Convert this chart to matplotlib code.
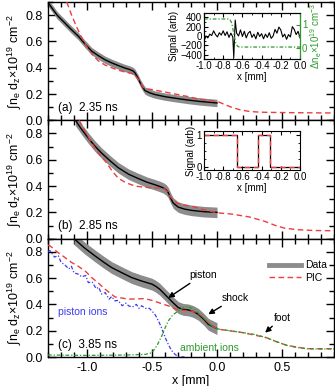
import numpy as np
import matplotlib
matplotlib.use("Agg")
import matplotlib.pyplot as plt
from matplotlib.ticker import MultipleLocator
from matplotlib.lines import Line2D

plt.rcParams['font.family'] = ['Liberation Sans', 'DejaVu Sans']
plt.rcParams['mathtext.fontset'] = 'custom'
plt.rcParams['mathtext.rm'] = 'Liberation Sans'
plt.rcParams['mathtext.it'] = 'Liberation Sans:italic'
plt.rcParams['mathtext.default'] = 'regular'

# ---------------- data ----------------
# panel (a) 2.35 ns
a_data_x = [-1.30, -1.285, -1.23, -1.17, -1.12, -1.067, -1.015, -0.964, -0.91, -0.86, -0.81, -0.76, -0.715, -0.67, -0.645, -0.63, -0.61, -0.59, -0.57, -0.554, -0.52, -0.477, -0.40, -0.30, -0.22, -0.144, -0.07, 0.0]
a_data_y = [0.90, 0.875, 0.80, 0.74, 0.69, 0.64, 0.58, 0.526, 0.49, 0.46, 0.437, 0.417, 0.40, 0.386, 0.375, 0.36, 0.325, 0.284, 0.25, 0.226, 0.21, 0.196, 0.18, 0.165, 0.154, 0.145, 0.138, 0.132]
a_pic_x = [-1.156, -1.12, -1.08, -1.04, -0.99, -0.95, -0.91, -0.86, -0.81, -0.76, -0.71, -0.64, -0.605, -0.567, -0.53, -0.50, -0.40, -0.30, -0.22, -0.144, -0.07, 0.0, 0.06, 0.113, 0.17, 0.24, 0.30, 0.37, 0.6, 0.9]
a_pic_y = [0.90, 0.805, 0.71, 0.627, 0.54, 0.49, 0.45, 0.42, 0.40, 0.382, 0.368, 0.353, 0.31, 0.25, 0.238, 0.234, 0.215, 0.196, 0.18, 0.162, 0.152, 0.145, 0.12, 0.099, 0.082, 0.069, 0.064, 0.061, 0.058, 0.056]
a_err = 0.028

# panel (b) 2.85 ns
b_data_x = [-1.09, -1.04, -0.99, -0.94, -0.887, -0.82, -0.76, -0.68, -0.605, -0.54, -0.477, -0.44, -0.413, -0.39, -0.375, -0.355, -0.336, -0.298, -0.25, -0.195, -0.10, 0.0]
b_data_y = [0.90, 0.83, 0.765, 0.705, 0.65, 0.59, 0.54, 0.49, 0.457, 0.43, 0.41, 0.397, 0.386, 0.37, 0.35, 0.305, 0.27, 0.24, 0.225, 0.215, 0.205, 0.20]
b_pic_x = [-1.06, -1.0, -0.94, -0.90, -0.86, -0.81, -0.76, -0.70, -0.63, -0.55, -0.477, -0.413, -0.385, -0.36, -0.31, -0.25, -0.195, -0.10, 0.0, 0.113, 0.25, 0.37, 0.45, 0.52, 0.62, 0.75, 0.9]
b_pic_y = [0.90, 0.79, 0.69, 0.635, 0.59, 0.52, 0.46, 0.425, 0.40, 0.39, 0.386, 0.386, 0.36, 0.32, 0.27, 0.255, 0.247, 0.22, 0.197, 0.187, 0.165, 0.131, 0.10, 0.08, 0.068, 0.062, 0.06]
b_err = 0.04

# panel (c) 3.85 ns
c_data_x = [-1.10, -1.02, -0.94, -0.87, -0.81, -0.73, -0.656, -0.58, -0.50, -0.47, -0.44, -0.41, -0.375, -0.335, -0.298, -0.26, -0.22, -0.18, -0.144, -0.10, -0.067, -0.03, 0.0]
c_data_y = [0.90, 0.83, 0.77, 0.72, 0.68, 0.64, 0.604, 0.578, 0.554, 0.537, 0.515, 0.485, 0.45, 0.41, 0.376, 0.362, 0.358, 0.345, 0.325, 0.285, 0.249, 0.23, 0.216]
c_pic_x = [-1.30, -1.285, -1.23, -1.17, -1.12, -1.067, -1.01, -0.964, -0.91, -0.86, -0.785, -0.68, -0.554, -0.50, -0.45, -0.375, -0.30, -0.195, -0.15, -0.118, -0.08, -0.04, 0.0, 0.023, 0.2, 0.38, 0.46, 0.536, 0.69, 0.9]
c_pic_y = [0.85, 0.846, 0.80, 0.757, 0.72, 0.69, 0.65, 0.604, 0.56, 0.515, 0.457, 0.44, 0.444, 0.43, 0.414, 0.389, 0.358, 0.35, 0.335, 0.312, 0.275, 0.236, 0.216, 0.21, 0.185, 0.147, 0.115, 0.089, 0.063, 0.063]
c_err = 0.045
piston_x = [-1.30, -1.285, -1.25, -1.22, -1.20, -1.17, -1.14, -1.12, -1.10, -1.067, -1.04, -1.01, -0.99, -0.96, -0.93, -0.91, -0.887, -0.86, -0.83, -0.81, -0.785, -0.76, -0.73, -0.70, -0.68, -0.65, -0.62, -0.60, -0.58, -0.55, -0.52, -0.50, -0.475, -0.45, -0.43, -0.413, -0.395, -0.375, -0.35, -0.323, -0.30, -0.25]
piston_y = [0.80, 0.81, 0.76, 0.77, 0.72, 0.70, 0.67, 0.69, 0.64, 0.63, 0.61, 0.62, 0.566, 0.57, 0.52, 0.53, 0.478, 0.49, 0.44, 0.46, 0.427, 0.43, 0.39, 0.41, 0.389, 0.38, 0.40, 0.37, 0.39, 0.37, 0.37, 0.35, 0.32, 0.274, 0.23, 0.185, 0.14, 0.097, 0.05, 0.02, 0.005, 0.0]
ambient_x = [-1.30, -1.0, -0.7, -0.55, -0.50, -0.46, -0.425, -0.40, -0.375, -0.34, -0.298, -0.26, -0.22, -0.17, -0.118, -0.04, 0.0, 0.023, 0.1, 0.2, 0.3, 0.38, 0.45, 0.536, 0.6, 0.69, 0.8, 0.9]
ambient_y = [0.015, 0.012, 0.015, 0.02, 0.033, 0.09, 0.16, 0.22, 0.274, 0.32, 0.35, 0.375, 0.383, 0.36, 0.31, 0.236, 0.216, 0.21, 0.20, 0.185, 0.17, 0.147, 0.12, 0.089, 0.075, 0.063, 0.06, 0.062]

# inset (a): shadowgraphy signal and density jump
sig_x = [-1.00, -0.98, -0.96, -0.94, -0.92, -0.90, -0.88, -0.86, -0.84, -0.82, -0.80, -0.78, -0.76, -0.74, -0.72, -0.70, -0.69, -0.675, -0.66, -0.64, -0.62, -0.60, -0.58, -0.56, -0.54, -0.52, -0.50, -0.48, -0.46, -0.44, -0.42, -0.40, -0.38, -0.36, -0.34, -0.32, -0.30, -0.28, -0.26, -0.24, -0.22, -0.20, -0.18, -0.16, -0.14, -0.12, -0.10, -0.08, -0.06, -0.04, -0.02, 0.00]
sig_y = [-110, 0, -40, 40, 10, 110, 30, -20, 70, 20, 110, 10, 90, -30, 60, -20, -460, 340, 60, 0, 130, -10, 100, -40, 60, 100, -30, 40, -60, 80, -10, 50, -60, 40, -30, 70, -50, 0, 140, 60, 190, 130, -20, 40, -70, 30, -20, 200, 140, 30, 100, -40]
dn_x = [-1.00, -0.75, -0.73, -0.71, -0.69, -0.67, -0.65, -0.63, 0.00]
dn_y = [1.24, 1.24, 1.22, 1.05, 0.60, 0.20, 0.05, 0.02, 0.02]

# inset (b): binary signal
bin_x = [-1.00, -0.655, -0.655, -0.435, -0.435, -0.31, -0.31, 0.00]
bin_y = [1, 1, 0, 0, 1, 1, 0, 0]

panel_labels = ['(a)  2.35 ns', '(b)  2.85 ns', '(c)  3.85 ns']

RED = '#f03c3c'
BLUE = '#3a3af0'
GREEN = '#2e9a2e'
GRAY = '#8c8c8c'

fig = plt.figure(figsize=(3.35, 3.86), dpi=100)
left, right = 48 / 335, 334 / 335
bottom, top = 29 / 386, 1 - 2 / 386
h = (top - bottom) / 3
axes = []
for i in range(3):
    ax = fig.add_axes([left, top - (i + 1) * h, right - left, h])
    axes.append(ax)

ylab = '∫n$_e$ d$_z$×10$^{19}$ cm$^{-2}$'
panels = [
    (a_data_x, a_data_y, a_pic_x, a_pic_y, a_err),
    (b_data_x, b_data_y, b_pic_x, b_pic_y, b_err),
    (c_data_x, c_data_y, c_pic_x, c_pic_y, c_err),
]
for i, (ax, (dx, dy, px, py, err)) in enumerate(zip(axes, panels)):
    dx = np.array(dx); dy = np.array(dy)
    ax.fill_between(dx, dy - err, dy + err, color=GRAY, lw=0, zorder=2)
    ax.plot(dx, dy, color='k', lw=1.0, zorder=4)
    ax.plot(px, py, color=RED, lw=1.0, ls=(0, (4, 2.5)), zorder=5)
    ax.set_xlim(-1.3, 0.9)
    ax.set_ylim(0, 0.9)
    ax.xaxis.set_major_locator(MultipleLocator(0.5))
    ax.xaxis.set_minor_locator(MultipleLocator(0.1))
    ax.yaxis.set_major_locator(MultipleLocator(0.2))
    ax.yaxis.set_minor_locator(MultipleLocator(0.1))
    ax.tick_params(which='both', direction='in', top=True, right=True, labelsize=9, width=1)
    ax.tick_params(which='major', length=6)
    ax.tick_params(which='minor', length=3.5)
    ax.set_yticks([0, 0.2, 0.4, 0.6, 0.8])
    ax.set_yticklabels(['0.0', '0.2', '0.4', '0.6', '0.8'])
    for s in ax.spines.values():
        s.set_linewidth(1.0)
    ax.set_ylabel(ylab, fontsize=9, labelpad=2)
    ax.text(-1.22, 0.095, panel_labels[i], fontsize=8.5, va='center', ha='left')
    if i < 2:
        ax.tick_params(labelbottom=False)

axc = axes[2]
axc.set_xticks([-1.0, -0.5, 0.0, 0.5])
axc.set_xticklabels(['-1.0', '-0.5', '0.0', '0.5'])
axc.set_xlabel('x [mm]', fontsize=9, labelpad=1)
axc.plot(piston_x, piston_y, color=BLUE, lw=0.9, ls=(0, (3, 1.5, 1, 1.5)), zorder=3)
axc.plot(ambient_x, ambient_y, color=GREEN, lw=0.9, ls=(0, (3, 1.5, 1, 1.5)), zorder=6)
axc.text(-1.22, 0.34, 'piston ions', color=BLUE, fontsize=7.5, va='center', ha='left')
axc.text(-0.285, 0.07, 'ambient ions', color=GREEN, fontsize=7.5, va='center', ha='left')
ap = dict(arrowstyle='-|>', color='k', lw=1.0, mutation_scale=8, shrinkA=1, shrinkB=0)
axc.annotate('piston', xy=(-0.375, 0.45), xytext=(-0.11, 0.625), fontsize=7.5,
             ha='center', va='center', arrowprops=ap)
axc.annotate('shock', xy=(-0.067, 0.325), xytext=(0.14, 0.45), fontsize=7.5,
             ha='center', va='center', arrowprops=ap)
axc.annotate('foot', xy=(0.37, 0.185), xytext=(0.50, 0.30), fontsize=7.5,
             ha='center', va='center', arrowprops=ap)
handles = [Line2D([], [], color=GRAY, lw=3.5), Line2D([], [], color=RED, lw=1.0, ls=(0, (4, 2.5)))]
axc.legend(handles, ['Data', 'PIC'], loc='upper right', bbox_to_anchor=(1.0, 0.88), frameon=False,
           fontsize=7.5, handlelength=3.0, handletextpad=0.4, labelspacing=0.25, borderaxespad=0.3)

# ---------- inset (a) ----------
ia = fig.add_axes([204 / 335, 1 - 59 / 386, 96 / 335, 46 / 386])
ia.plot(sig_x, sig_y, color='k', lw=0.8)
ia.set_xlim(-1.0, 0.0)
ia.set_ylim(-490, 490)
ia.set_yticks([-400, -200, 0, 200, 400])
ia.yaxis.set_minor_locator(MultipleLocator(100))
ia.set_xticks([-1.0, -0.8, -0.6, -0.4, -0.2, 0.0])
ia.set_xticklabels(['-1.0', '-0.8', '-0.6', '-0.4', '-0.2', '0.0'])
ia.xaxis.set_minor_locator(MultipleLocator(0.1))
ia.tick_params(which='both', direction='in', top=True, labelsize=7, pad=1.5)
ia.tick_params(which='major', length=3)
ia.tick_params(which='minor', length=1.5)
ia.set_xlabel('x [mm]', fontsize=7, labelpad=0.5)
ia.set_ylabel('Signal (arb)', fontsize=7, labelpad=0.5)
ia2 = ia.twinx()
ia2.plot(dn_x, dn_y, color=GREEN, lw=0.9, ls=(0, (3, 1.5, 1, 1.5)))
ia2.set_ylim(-0.5, 1.5)
ia2.set_yticks([0, 1])
ia2.yaxis.set_minor_locator(MultipleLocator(0.5))
ia2.tick_params(which='both', direction='in', colors=GREEN, labelsize=7, pad=1.5)
ia2.tick_params(which='major', length=3)
ia2.tick_params(which='minor', length=1.5)
ia2.spines['right'].set_color(GREEN)
ia2.set_ylabel('Δn$_e$×10$^{19}$ cm$^{-3}$', fontsize=7, color=GREEN, labelpad=1)

# ---------- inset (b) ----------
ib = fig.add_axes([204 / 335, 1 - 170 / 386, 96 / 335, 39 / 386])
ib.plot(bin_x, bin_y, color='k', lw=0.9)
ib.plot(bin_x, bin_y, color=RED, lw=1.0, ls=(0, (4, 2.5)))
ib.set_xlim(-1.0, 0.0)
ib.set_ylim(-0.08, 1.12)
ib.set_yticks([0, 1])
ib.yaxis.set_minor_locator(MultipleLocator(0.25))
ib.set_xticks([-1.0, -0.8, -0.6, -0.4, -0.2, 0.0])
ib.set_xticklabels(['-1.0', '-0.8', '-0.6', '-0.4', '-0.2', '0.0'])
ib.xaxis.set_minor_locator(MultipleLocator(0.1))
ib.tick_params(which='both', direction='in', top=True, right=True, labelsize=7, pad=1.5)
ib.tick_params(which='major', length=3)
ib.tick_params(which='minor', length=1.5)
ib.set_xlabel('x [mm]', fontsize=7, labelpad=0.5)
ib.set_ylabel('Signal (arb)', fontsize=7, labelpad=0.5)

fig.savefig('out.png', dpi=100)
